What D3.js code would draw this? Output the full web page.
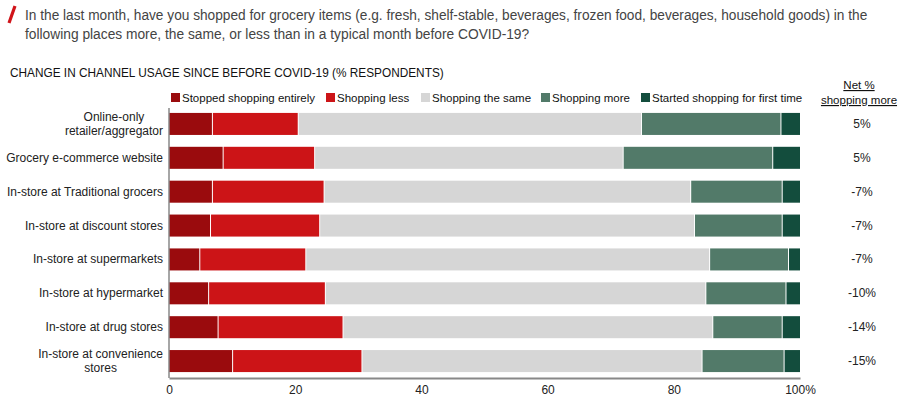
<!DOCTYPE html>
<html>
<head>
<meta charset="utf-8">
<script src="https://cdn.jsdelivr.net/npm/d3@7"></script>
<style>
  body { margin: 0; background: #fff; }
  svg { display: block; font-family: "Liberation Sans", Arial, sans-serif; }
</style>
</head>
<body>
<div id="chart"></div>
<script>
// data
const channels = [
  ["Online-only", "retailer/aggregator"],
  ["Grocery e-commerce website"],
  ["In-store at Traditional grocers"],
  ["In-store at discount stores"],
  ["In-store at supermarkets"],
  ["In-store at hypermarket"],
  ["In-store at drug stores"],
  ["In-store at convenience", "stores"]
];
const seriesNames = ["Stopped shopping entirely", "Shopping less", "Shopping the same", "Shopping more", "Started shopping for first time"];
const stopped  = [6.8, 8.5, 6.8, 6.5, 4.8, 6.2, 7.7, 10.0];
const less     = [13.6, 14.5, 17.7, 17.3, 16.8, 18.5, 19.8, 20.5];
const same     = [54.4, 48.9, 58.1, 59.4, 64.0, 60.3, 58.6, 53.9];
const more     = [22.1, 23.7, 14.5, 13.9, 12.5, 12.7, 11.0, 13.0];
const started  = [3.1, 4.4, 2.9, 2.9, 1.9, 2.3, 2.9, 2.6];
const netLabels = ["5%", "5%", "-7%", "-7%", "-7%", "-10%", "-14%", "-15%"];
const xTicks = [0, 20, 40, 60, 80, 100];

const colors = ["#9a0b0d", "#cc1417", "#d6d6d6", "#527a69", "#134d3d"];

const width = 900, height = 398;
const margin = { top: 107, right: 100, bottom: 20, left: 169 };

const svg = d3.select("#chart").append("svg")
  .attr("width", width)
  .attr("height", height);

// header
svg.append("line")
  .attr("x1", 9).attr("y1", 23).attr("x2", 15).attr("y2", 6)
  .attr("stroke", "#d0141a").attr("stroke-width", 3.2);

// condensed text: squeeze horizontally to the width seen in the reference
function narrowText(txt, x0, y0, size, w, fill) {
  const g = svg.append("g");
  const t = g.append("text")
    .style("font-size", size + "px")
    .style("fill", fill)
    .text(txt);
  const natural = t.node().getComputedTextLength();
  g.attr("transform", `translate(${x0},${y0}) scale(${w / natural},1)`);
}

const title = [
  "In the last month, have you shopped for grocery items (e.g. fresh, shelf-stable, beverages, frozen food, beverages, household goods) in the",
  "following places more, the same, or less than in a typical month before COVID-19?"
];
const titleWidths = [843, 505];
title.forEach((t, i) => narrowText(t, 25, 20 + i * 19, 14.5, titleWidths[i], "#444"));

narrowText("CHANGE IN CHANNEL USAGE SINCE BEFORE COVID-19 (% RESPONDENTS)", 10, 77, 12, 434, "#111");

// scales
const x = d3.scaleLinear()
  .domain([0, 100])
  .range([margin.left, width - margin.right]);

const y = d3.scaleBand()
  .domain(d3.range(channels.length))
  .range([margin.top, 378])
  .paddingInner(0.35)
  .paddingOuter(0.175);

// stack the rows
const rows = channels.map((c, i) => {
  const vals = [stopped[i], less[i], same[i], more[i], started[i]];
  let acc = 0;
  return vals.map((v, k) => {
    const seg = { row: i, k: k, x0: acc, x1: acc + v };
    acc += v;
    return seg;
  });
});
// last segment closes at 100
rows.forEach(r => { r[r.length - 1].x1 = 100; });

svg.append("g").selectAll("g")
  .data(rows).enter().append("g")
  .selectAll("rect")
  .data(d => d).enter().append("rect")
  .attr("x", d => x(d.x0) + (d.k > 0 ? 1 : 0))
  .attr("y", d => y(d.row))
  .attr("width", d => x(d.x1) - x(d.x0) - (d.k > 0 ? 1 : 0))
  .attr("height", y.bandwidth())
  .attr("fill", d => colors[d.k]);

// category labels
const labels = svg.append("g").selectAll("text")
  .data(channels).enter().append("text")
  .attr("x", 163)
  .attr("y", (d, i) => y(i) + y.bandwidth() / 2)
  .attr("text-anchor", "end")
  .style("font-size", "12px")
  .style("fill", "#222");
labels.selectAll("tspan")
  .data(d => d.map((t, j) => ({ t: t, j: j, n: d.length })))
  .enter().append("tspan")
  .attr("x", 163)
  .attr("dy", d => d.j === 0 ? (d.n > 1 ? -3 : 4) : 14)
  .attr("text-anchor", d => d.n > 1 ? "middle" : "end")
  .text(d => d.t);
// two-line labels are centred over their own width
labels.each(function () {
  const spans = d3.select(this).selectAll("tspan");
  if (spans.size() > 1) {
    const w = d3.max(spans.nodes(), n => n.getComputedTextLength());
    spans.attr("x", 163 - w / 2);
  }
});

// axes
svg.append("line")
  .attr("x1", x(0)).attr("x2", x(0))
  .attr("y1", 108).attr("y2", 378)
  .attr("stroke", "#888").attr("stroke-width", 1.5);

const xAxis = svg.append("g")
  .attr("transform", "translate(0,378)")
  .call(d3.axisBottom(x).tickValues(xTicks).tickSize(0).tickPadding(7)
    .tickFormat(d => d === 100 ? "100%" : d));
xAxis.select(".domain").attr("stroke", "#888").attr("stroke-width", 2);
xAxis.selectAll("text")
  .style("font-family", "'Liberation Sans', Arial, sans-serif")
  .style("font-size", "12px")
  .style("fill", "#222");

// legend
const legendX = [171, 326, 421, 541, 641];
const legend = svg.append("g").selectAll("g")
  .data(seriesNames).enter().append("g")
  .attr("transform", (d, i) => `translate(${legendX[i]},93)`);
legend.append("rect")
  .attr("width", 9).attr("height", 9)
  .attr("fill", (d, i) => colors[i]);
legend.append("text")
  .attr("x", 11).attr("y", 9)
  .style("font-size", "11.5px")
  .style("fill", "#111")
  .text(d => d);

// net % column
svg.append("text")
  .attr("x", 859).attr("y", 89)
  .attr("text-anchor", "middle")
  .style("font-size", "11.5px")
  .style("fill", "#111")
  .style("text-decoration", "underline")
  .text("Net %");
svg.append("text")
  .attr("x", 859).attr("y", 104)
  .attr("text-anchor", "middle")
  .style("font-size", "11.5px")
  .style("fill", "#111")
  .style("text-decoration", "underline")
  .text("shopping more");

svg.append("g").selectAll("text")
  .data(netLabels).enter().append("text")
  .attr("x", 862)
  .attr("y", (d, i) => y(i) + y.bandwidth() / 2 + 4)
  .attr("text-anchor", "middle")
  .style("font-size", "12px")
  .style("fill", "#222")
  .text(d => d);
</script>
</body>
</html>
